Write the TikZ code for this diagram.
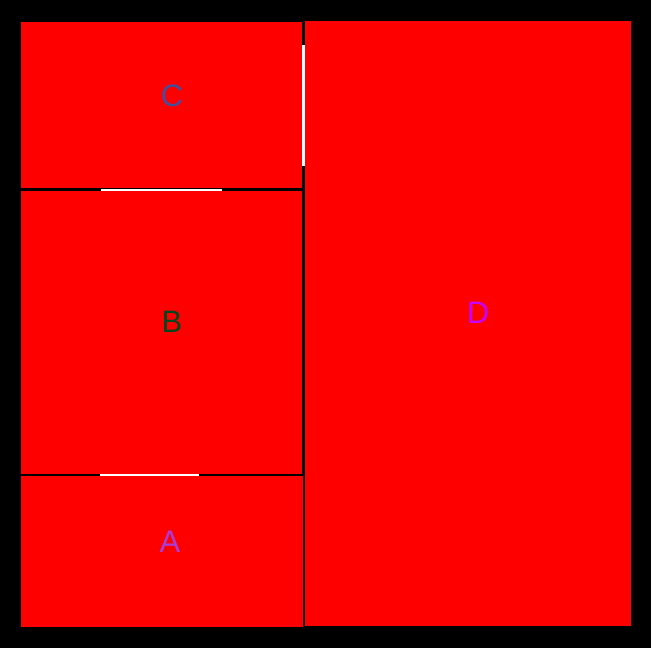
\documentclass[tikz,border=0pt]{standalone}
\usepackage{fontspec}
\setmainfont{Liberation Sans}
\usetikzlibrary{positioning}

\begin{document}
\begin{tikzpicture}[
          x=1pt, y=-1pt,
          region/.style={fill=red, draw=none},
          slit/.style={fill=white, draw=none},
          tag/.style={font=\fontsize{31}{31}\selectfont, inner sep=0pt}
      ]
        \useasboundingbox (0,0) rectangle (651,648);
        \fill[black] (0,0) rectangle (651,648);
        % rooms
        \fill[region] (21,22) rectangle (302,188);
        \fill[region] (21,191) rectangle (302,474);
        \fill[region] (21,476) rectangle (303,627);
        \fill[region] (305,21) rectangle (631,626);
        % openings
        \fill[slit] (302,45) rectangle (305,166);
        \fill[slit] (101,189) rectangle (222,191);
        \fill[slit] (100,474) rectangle (199,476);
        % labels
        \node[tag, text={rgb,255:red,64;green,80;blue,160}] (labC) at (172,96) {C};
        \node[tag, text={rgb,255:red,0;green,70;blue,30}] (labB) at (172,322) {B};
        \node[tag, text={rgb,255:red,170;green,60;blue,220}] (labA) at (170,542) {A};
        \node[tag, text={rgb,255:red,200;green,0;blue,255}] (labD) at (478,313) {D};
      \end{tikzpicture}
\end{document}
